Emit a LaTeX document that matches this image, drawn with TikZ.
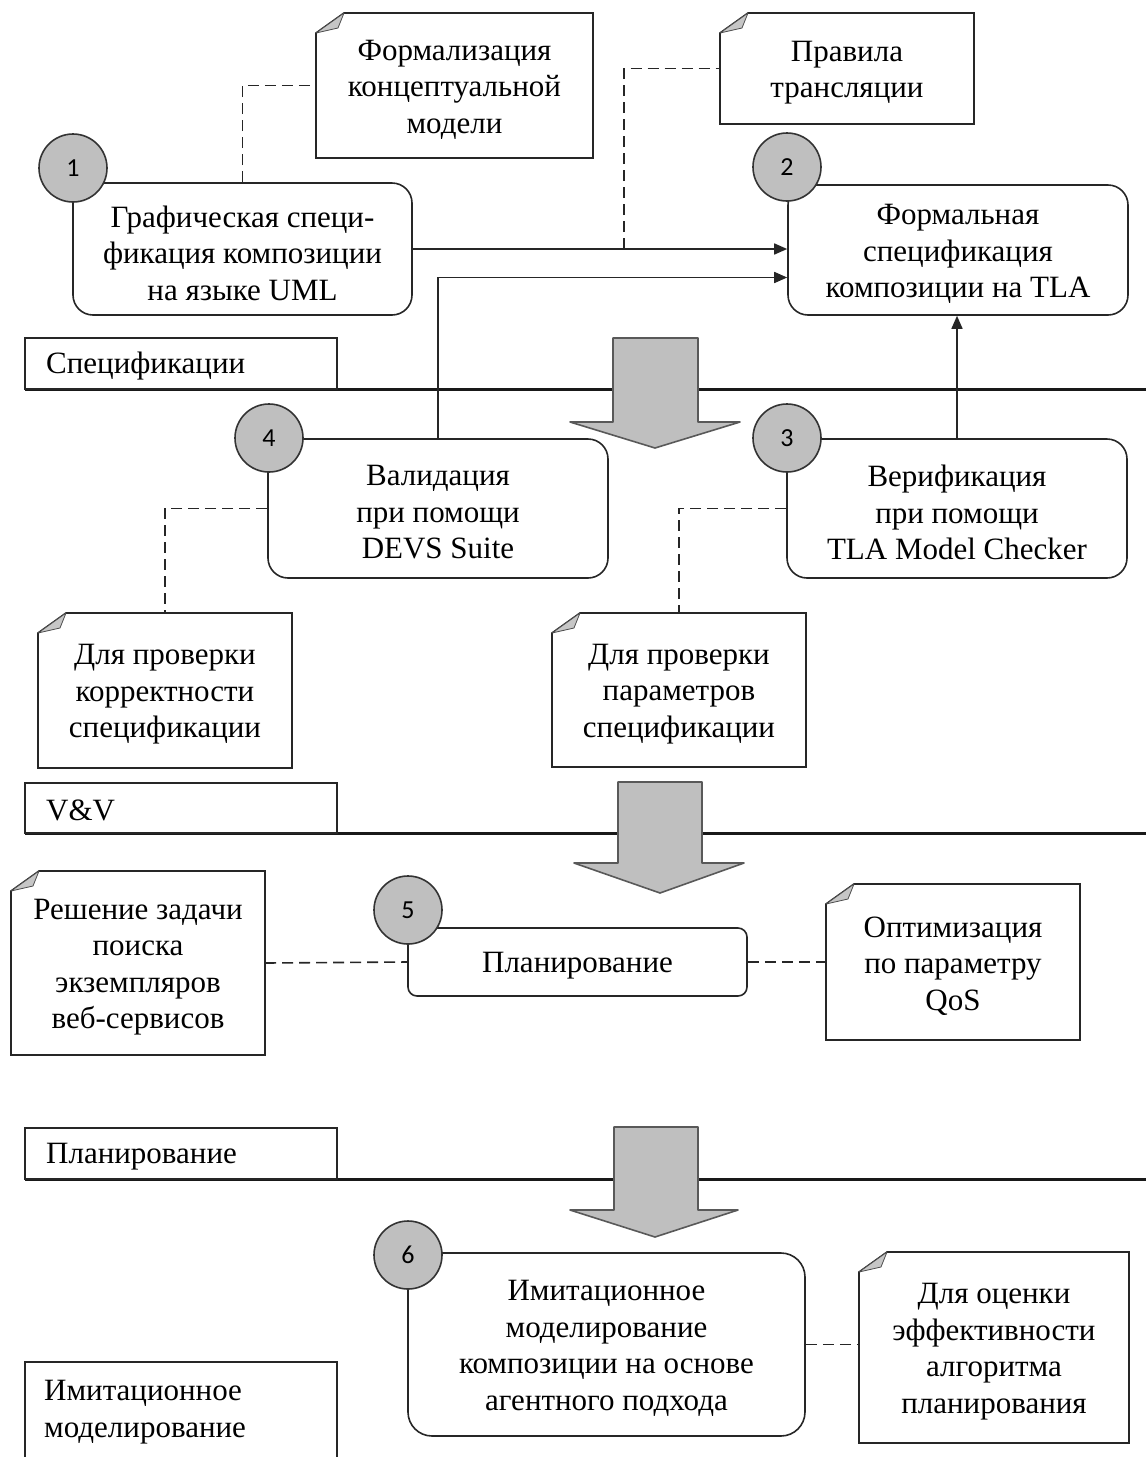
\documentclass[tikz,border=0pt]{standalone}
\usepackage{fontspec}
\setmainfont{Liberation Serif}
\newfontfamily\numfont{Carlito}
\usetikzlibrary{arrows.meta}
\newcommand\fs{\fontsize{31}{36.5}\selectfont}
\tikzset{
  ln/.style={draw=black!85, line width=1.6pt},
  proc/.style={ln, rounded corners=20pt, inner sep=0pt, fill=white},
  txt/.style={inner sep=0pt, align=center, font=\fs},
  num/.style={circle, draw=black!80, fill=gray!50, line width=1.6pt, minimum size=68pt, inner sep=0pt, font=\numfont\fontsize{26}{28}\selectfont},
  conn/.style={ln, -{Triangle[length=13pt,width=11pt]}},
  dconn/.style={ln, dash pattern=on 11pt off 6pt},
  lanebox/.style={ln, fill=white},
  lanetxt/.style={inner sep=0pt, anchor=west, align=left, font=\fs},
  laneline/.style={draw=black!90, line width=3pt},
  bigarrow/.style={draw=black!65, line width=1.6pt, fill=gray!50, line join=round},
}
% name, x1, y1, x2, y2, text
\newcommand\notebox[6]{%
  \draw[ln, fill=white] (#2,#3+20) -- (#2+28,#3) -- (#4,#3) -- (#4,#5) -- (#2,#5) -- cycle;
  \draw[draw=black!70, fill=gray!45, line width=0.8pt, line join=round] (#2,#3+20) -- (#2+28,#3) -- (#2+22,#3+15) -- cycle;
  \node[inner sep=0pt, minimum width=#4-#2, minimum height=#5-#3] (#1) at ({(#2+#4)/2},{(#3+#5)/2}) {};
  \node[txt] (#1t) at ([yshift=-4pt]#1.center) {#6};}
% name, options, center, text
\newcommand\procbox[4]{%
  \node[proc, #2] (#1) at (#3) {};
  \node[txt] (#1t) at ([yshift=-4pt]#1.center) {#4};}
% name, sx1, sx2, top, headbase, hx1, hx2, tipx, tipy
\newcommand\bigarr[9]{%
  \draw[bigarrow] (#2,#4) -- (#3,#4) -- (#3,#5) -- (#7,#5) -- (#8,#9) -- (#6,#5) -- (#2,#5) -- cycle;
  \coordinate (#1) at (#8,#9);}
\begin{document}
\begin{tikzpicture}[x=1pt,y=-1pt]
\useasboundingbox (0,0) rectangle (1146,1457);

% lanes
\draw[laneline] (25,389) -- (1146,389);
\draw[laneline] (25,833) -- (1146,833);
\draw[laneline] (25,1179) -- (1146,1179);
\draw[lanebox] (25,338) rectangle (337,389);
\node[lanetxt] (l1) at (46,366) {Спецификации};
\draw[lanebox] (25,783) rectangle (337,833);
\node[lanetxt] (l2) at (46,810) {V\&V};
\draw[lanebox] (25,1128) rectangle (337,1179);
\node[lanetxt] (l3) at (46,1157) {Планирование};
\draw[lanebox] (25,1362) rectangle (337,1475);
\node[lanetxt] (l4) at (44,1412) {Имитационное\\моделирование};

% big arrows
\bigarr{a1}{613}{698}{338}{422}{570}{740}{655}{448}
\bigarr{a2}{618}{702}{782}{863}{574}{744}{660}{893}
\bigarr{a3}{614}{698}{1127}{1210}{570}{738}{655}{1237}

% process boxes
\procbox{b1}{minimum width=339pt, minimum height=132pt}{242.5,249}{Графическая специ-\\фикация композиции\\на языке UML}
\procbox{b2}{minimum width=340pt, minimum height=130pt}{958,250}{Формальная\\спецификация\\композиции на TLA}
\procbox{b3}{minimum width=340pt, minimum height=139pt}{957,508.5}{Верификация\\при помощи\\TLA Model Checker}
\procbox{b4}{minimum width=340pt, minimum height=139pt}{438,508.5}{Валидация\\при помощи\\DEVS Suite}
\procbox{b5}{rounded corners=9pt, minimum width=339pt, minimum height=68pt}{577.5,962}{Планирование}
\procbox{b6}{rounded corners=24pt, minimum width=397pt, minimum height=183pt}{606.5,1344.5}{Имитационное\\моделирование\\композиции на основе\\агентного подхода}

% circles
\node[num] (c1) at (73,168) {1};
\node[num] (c2) at (787,167) {2};
\node[num] (c3) at (787,438) {3};
\node[num] (c4) at (269,438) {4};
\node[num] (c5) at (408,910) {5};
\node[num] (c6) at (408,1255) {6};

% notes
\notebox{nA}{316}{13}{593}{158}{Формализация\\концептуальной\\модели}
\notebox{nB}{720}{13}{974}{124}{Правила\\трансляции}
\notebox{nC}{38}{613}{292}{768}{Для проверки\\корректности\\спецификации}
\notebox{nD}{552}{613}{806}{767}{Для проверки\\параметров\\спецификации}
\notebox{nE}{11}{871}{265}{1055}{Решение задачи\\поиска\\экземпляров\\веб-сервисов}
\notebox{nF}{826}{884}{1080}{1040}{Оптимизация\\по параметру\\QoS}
\notebox{nG}{859}{1252}{1129}{1443}{Для оценки\\эффективности\\алгоритма\\планирования}

% connectors
\draw[conn] (b1.east) -- (b1.east -| b2.west);
\draw[conn] (b4.north) |- ([yshift=-27.5pt]b2.west);
\draw[conn] (b3.north) -- (b3.north |- b2.south);
\coordinate (tj) at (624,249);
\draw[dconn] (b1.north) |- (nA.west);
\draw[dconn] (tj) |- (nB.west);
\draw[dconn] (b4.west) -| (nC.north);
\draw[dconn] (b3.west) -| (nD.north);
\draw[dconn] (nE.east) -- (b5.west);
\draw[dconn] (b5.east) -- (nF.west);
\draw[dconn] (b6.east) -- (b6.east -| nG.west);
\end{tikzpicture}
\end{document}
